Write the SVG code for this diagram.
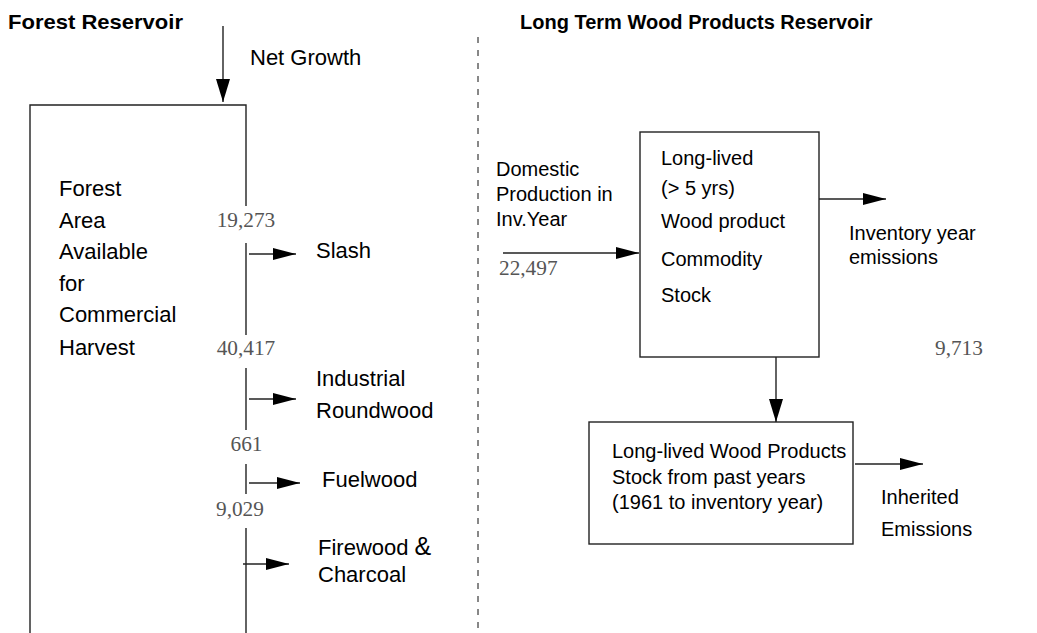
<svg xmlns="http://www.w3.org/2000/svg" width="1037" height="633" viewBox="0 0 1037 633">
<style>
.t{font-family:"Liberation Sans",Arial,sans-serif;font-size:22px;fill:#000}
.r{font-family:"Liberation Sans",Arial,sans-serif;font-size:20px;fill:#000}
.b{font-family:"Liberation Sans",Arial,sans-serif;font-weight:bold;fill:#000}
.n{font-family:"Liberation Serif","Times New Roman",serif;font-size:21.3px;fill:#555}
.ln{stroke:#222;stroke-width:1.4;fill:none}
.bx{stroke:#222;stroke-width:1.4;fill:#fff}
</style>
<defs>
<marker id="ah" markerWidth="23" markerHeight="14" refX="23" refY="7" orient="auto" markerUnits="userSpaceOnUse">
<path d="M0,0 L23,7 L0,14 Z" fill="#000"/>
</marker>
<marker id="ahs" markerWidth="23" markerHeight="12" refX="23" refY="6" orient="auto" markerUnits="userSpaceOnUse">
<path d="M0,0 L23,6 L0,12 Z" fill="#000"/>
</marker>
</defs>
<g id="titles">
<text class="b" x="8" y="29" font-size="20.5" textLength="175" lengthAdjust="spacingAndGlyphs">Forest Reservoir</text>
<text class="b" x="520" y="29" font-size="20">Long Term Wood Products Reservoir</text>
</g>
<g id="divider">
<line x1="478" y1="37" x2="478" y2="633" stroke="#111" stroke-width="1" stroke-dasharray="6 7"/>
</g>
<g id="forest">
<path class="ln" d="M30,633 V105 H246 V206"/>
<line class="ln" x1="246" y1="243" x2="246" y2="335"/>
<line class="ln" x1="246" y1="368" x2="246" y2="430"/>
<line class="ln" x1="246" y1="464" x2="246" y2="494"/>
<line class="ln" x1="246" y1="528" x2="246" y2="633"/>
<text class="t" x="59" y="196">Forest</text>
<text class="t" x="59" y="228">Area</text>
<text class="t" x="59" y="259">Available</text>
<text class="t" x="59" y="291">for</text>
<text class="t" x="59" y="322">Commercial</text>
<text class="t" x="59" y="355">Harvest</text>
</g>
<g id="numbers">
<text class="n" x="246" y="227" text-anchor="middle">19,273</text>
<text class="n" x="246" y="355" text-anchor="middle">40,417</text>
<text class="n" x="246.5" y="451" text-anchor="middle">661</text>
<text class="n" x="216" y="516">9,029</text>
<text class="n" x="499" y="275">22,497</text>
<text class="n" x="935" y="355">9,713</text>
</g>
<g id="outputs">
<text class="t" x="250" y="65">Net Growth</text>
<text class="t" x="316" y="258">Slash</text>
<text class="t" x="316" y="386">Industrial</text>
<text class="t" x="316" y="418">Roundwood</text>
<text class="t" x="322" y="487">Fuelwood</text>
<text class="t" x="318" y="555">Firewood <tspan font-size="25">&amp;</tspan></text>
<text class="t" x="318" y="582">Charcoal</text>
</g>
<g id="domestic">
<text class="r" x="496" y="176">Domestic</text>
<text class="r" x="496" y="201">Production in</text>
<text class="r" x="496" y="226">Inv.Year</text>
</g>
<g id="longlived">
<rect class="bx" x="640" y="132" width="179" height="225"/>
<text class="r" x="661" y="165">Long-lived</text>
<text class="r" x="661" y="195">(&gt; 5 yrs)</text>
<text class="r" x="661" y="228">Wood product</text>
<text class="r" x="661" y="266">Commodity</text>
<text class="r" x="661" y="302">Stock</text>
</g>
<g id="emissions">
<text class="r" x="849" y="240">Inventory year</text>
<text class="r" x="849" y="264">emissions</text>
</g>
<g id="paststock">
<rect class="bx" x="589" y="422" width="264" height="122"/>
<text class="r" x="612" y="458">Long-lived Wood Products</text>
<text class="r" x="612" y="484">Stock from past years</text>
<text class="r" x="612" y="509">(1961 to inventory year)</text>
</g>
<g id="inherited">
<text class="r" x="881" y="504">Inherited</text>
<text class="r" x="881" y="536">Emissions</text>
</g>
<g id="connectors">
<line class="ln" x1="223" y1="26" x2="223" y2="102" marker-end="url(#ah)"/>
<line class="ln" x1="249" y1="254" x2="296" y2="254" marker-end="url(#ahs)"/>
<line class="ln" x1="249" y1="399" x2="296" y2="399" marker-end="url(#ahs)"/>
<line class="ln" x1="249" y1="483" x2="300" y2="483" marker-end="url(#ahs)"/>
<line class="ln" x1="243" y1="564" x2="289" y2="564" marker-end="url(#ahs)"/>
<line class="ln" x1="503" y1="253" x2="639" y2="253" marker-end="url(#ahs)"/>
<line class="ln" x1="819" y1="199" x2="886" y2="199" marker-end="url(#ahs)"/>
<line class="ln" x1="776" y1="357" x2="776" y2="422" marker-end="url(#ah)"/>
<line class="ln" x1="855" y1="464" x2="923" y2="464" marker-end="url(#ahs)"/>
</g>
</svg>
